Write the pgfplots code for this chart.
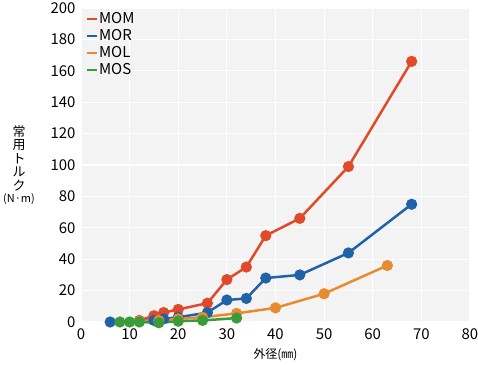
\documentclass[border=0pt]{standalone}
\usepackage{fontspec}
\setmainfont{Noto Sans CJK JP}
\usepackage{pgfplots}
\pgfplotsset{compat=1.18}
\definecolor{cMOM}{HTML}{E04A2A}
\definecolor{cMOR}{HTML}{1F62A8}
\definecolor{cMOL}{HTML}{E88B30}
\definecolor{cMOS}{HTML}{3A9B3A}
\definecolor{bg}{HTML}{F3F3F3}
\begin{document}
\begin{tikzpicture}
\begin{axis}[
  scale only axis,
  width=389bp, height=314bp,
  xmin=0, xmax=80, ymin=0, ymax=200,
  xtick={0,10,...,80}, ytick={0,20,...,200},
  axis background/.style={fill=bg},
  grid=major,
  major grid style={white, line width=1.2pt},
  axis line style={draw=none},
  major tick length=0pt,
  clip=false,
  tick label style={font=\fontsize{15}{16}\selectfont},
  /pgf/number format/assume math mode=true,
  xticklabel style={yshift=-3bp},
  yticklabel style={xshift=-2bp},
  xlabel={外径(㎜)},
  xlabel style={font=\fontsize{12}{13}\selectfont, yshift=-2bp},
  legend style={at={(0.012,0.99)}, anchor=north west, draw=none, fill=none,
    font=\fontsize{15}{15}\selectfont, row sep=3.5bp, inner sep=0.5bp,
    nodes={inner sep=0.5bp}},
  legend cell align=left,
  legend image code/.code={\draw[#1, line width=2.2pt] (0bp,0bp) -- (10bp,0bp);},
  every axis plot/.append style={line width=2.5pt, mark=*, mark size=4.3bp},
]
\addplot[cMOM, mark options={fill=cMOM}] coordinates {
(12,1) (15,4) (17,6) (20,8) (26,12) (30,27) (34,35) (38,55) (45,66) (55,99) (68,166)};
\addlegendentry{MOM}
\addplot[cMOR, mark options={fill=cMOR}] coordinates {
(6,0) (15,1) (17,2) (20,3) (26,6) (30,14) (34,15) (38,28) (45,30) (55,44) (68,75)};
\addlegendentry{MOR}
\addplot[cMOL, mark options={fill=cMOL}] coordinates {
(12,0.5) (16,1) (20,2) (25,3) (32,5.5) (40,9) (50,18) (63,36)};
\addlegendentry{MOL}
\addplot[cMOS, mark options={fill=cMOS}] coordinates {
(8,0) (10,0) (12,0) (16,-0.5) (20,0.5) (25,1) (32,2.5)};
\addlegendentry{MOS}
\node[align=center, inner sep=0pt, font=\fontsize{13}{13.5}\selectfont] at ([xshift=-62bp]rel axis cs:0,0.5)
  {常\\用\\ト\\ル\\ク\\[-1bp]{\fontsize{11}{12}\selectfont(N·m)}};
\end{axis}
\pgfresetboundingbox
\path[use as bounding box] (-81bp,-43bp) rectangle (397bp,322bp);
\end{tikzpicture}
\end{document}
